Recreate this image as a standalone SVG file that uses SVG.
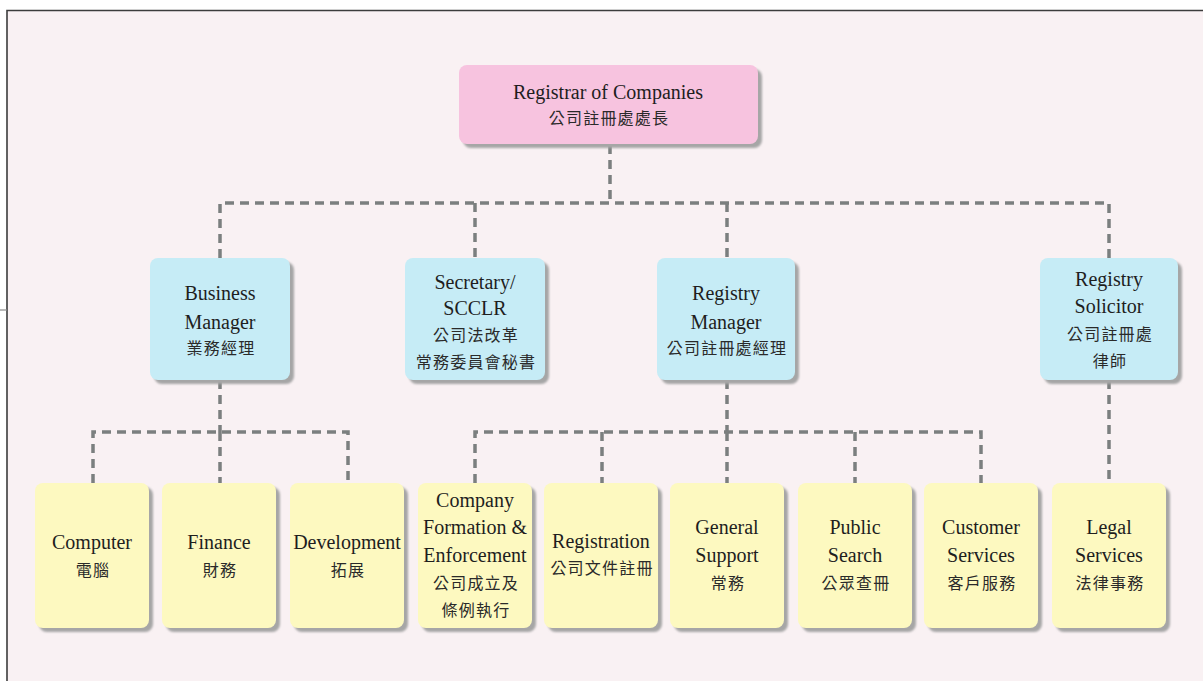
<svg xmlns="http://www.w3.org/2000/svg" width="1203" height="681" viewBox="0 0 1203 681">
<defs>
<filter id="sh" x="-10%" y="-10%" width="130%" height="130%"><feGaussianBlur stdDeviation="1.2"/></filter>
<style>
.bg{fill:#f9f1f3}
.frame{stroke:#3c3c3c;stroke-width:1.6;fill:none}
.shadow{fill:#a6a6a6;filter:url(#sh)}
.pink{fill:#f7c3df}
.blue{fill:#c6ecf6}
.yellow{fill:#fdf9c0}
.conn{stroke:#7b7f7f;stroke-width:3.5;stroke-dasharray:9 6;fill:none}
.en{font-family:'Liberation Serif','Times New Roman',Times,serif;font-size:20px;fill:#1e1e1e;text-anchor:middle}
.zh{font-family:'Noto Sans CJK TC','Noto Sans CJK SC',sans-serif;font-size:16px;fill:#2a2a2a;text-anchor:middle;letter-spacing:1.2px}
</style>
</defs>
<rect x="0" y="0" width="1203" height="681" fill="#ffffff"/>
<rect class="bg" x="7" y="10" width="1196" height="671"/>
<path class="frame" d="M7 681 V10.5 H1203"/>
<line x1="0" y1="310" x2="7" y2="310" stroke="#8a8a8a" stroke-width="1.2"/>

<g id="connectors">
<path class="conn" d="M610 145 V203"/>
<path class="conn" d="M220 258 V203 H1109 V258"/>
<path class="conn" d="M475 203 V258"/>
<path class="conn" d="M727 203 V258"/>
<path class="conn" d="M220 380 V432"/>
<path class="conn" d="M93 483 V432 H348 V483"/>
<path class="conn" d="M220 432 V483"/>
<path class="conn" d="M727 380 V432"/>
<path class="conn" d="M475 483 V432 H981 V483"/>
<path class="conn" d="M602 432 V483"/>
<path class="conn" d="M727 432 V483"/>
<path class="conn" d="M855 432 V483"/>
<path class="conn" d="M1109 380 V483"/>
</g>

<g id="registrar">
<rect class="shadow" x="463" y="69" width="299" height="79" rx="8"/>
<rect class="pink" x="459" y="65" width="299" height="79" rx="8"/>
<text class="en" x="608" y="99" font-family="Liberation Serif, serif">Registrar of Companies</text>
<text class="zh" x="609" y="124">公司註冊處處長</text>
</g>

<g id="business-manager">
<rect class="shadow" x="154" y="262" width="140" height="122" rx="8"/>
<rect class="blue" x="150" y="258" width="140" height="122" rx="8"/>
<text class="en" x="220" y="300">Business</text>
<text class="en" x="220" y="329">Manager</text>
<text class="zh" x="221" y="354">業務經理</text>
</g>

<g id="secretary">
<rect class="shadow" x="409" y="262" width="140" height="122" rx="8"/>
<rect class="blue" x="405" y="258" width="140" height="122" rx="8"/>
<text class="en" x="475" y="289">Secretary/</text>
<text class="en" x="475" y="315">SCCLR</text>
<text class="zh" x="476" y="341">公司法改革</text>
<text class="zh" x="476" y="368">常務委員會秘書</text>
</g>

<g id="registry-manager">
<rect class="shadow" x="661" y="262" width="138" height="122" rx="8"/>
<rect class="blue" x="657" y="258" width="138" height="122" rx="8"/>
<text class="en" x="726" y="300">Registry</text>
<text class="en" x="726" y="329">Manager</text>
<text class="zh" x="727" y="354">公司註冊處經理</text>
</g>

<g id="registry-solicitor">
<rect class="shadow" x="1044" y="262" width="138" height="122" rx="8"/>
<rect class="blue" x="1040" y="258" width="138" height="122" rx="8"/>
<text class="en" x="1109" y="286">Registry</text>
<text class="en" x="1109" y="313">Solicitor</text>
<text class="zh" x="1110" y="340">公司註冊處</text>
<text class="zh" x="1110" y="367">律師</text>
</g>

<g id="computer">
<rect class="shadow" x="39" y="487" width="114" height="145" rx="8"/>
<rect class="yellow" x="35" y="483" width="114" height="145" rx="8"/>
<text class="en" x="92" y="549">Computer</text>
<text class="zh" x="93" y="576">電腦</text>
</g>

<g id="finance">
<rect class="shadow" x="166" y="487" width="114" height="145" rx="8"/>
<rect class="yellow" x="162" y="483" width="114" height="145" rx="8"/>
<text class="en" x="219" y="549">Finance</text>
<text class="zh" x="220" y="576">財務</text>
</g>

<g id="development">
<rect class="shadow" x="294" y="487" width="114" height="145" rx="8"/>
<rect class="yellow" x="290" y="483" width="114" height="145" rx="8"/>
<text class="en" x="347" y="549">Development</text>
<text class="zh" x="348" y="576">拓展</text>
</g>

<g id="company-formation">
<rect class="shadow" x="422" y="487" width="114" height="145" rx="8"/>
<rect class="yellow" x="418" y="483" width="114" height="145" rx="8"/>
<text class="en" x="475" y="507">Company</text>
<text class="en" x="475" y="534">Formation &amp;</text>
<text class="en" x="475" y="562">Enforcement</text>
<text class="zh" x="476" y="589">公司成立及</text>
<text class="zh" x="476" y="616">條例執行</text>
</g>

<g id="registration">
<rect class="shadow" x="548" y="487" width="114" height="145" rx="8"/>
<rect class="yellow" x="544" y="483" width="114" height="145" rx="8"/>
<text class="en" x="601" y="548">Registration</text>
<text class="zh" x="602" y="574">公司文件註冊</text>
</g>

<g id="general-support">
<rect class="shadow" x="674" y="487" width="114" height="145" rx="8"/>
<rect class="yellow" x="670" y="483" width="114" height="145" rx="8"/>
<text class="en" x="727" y="534">General</text>
<text class="en" x="727" y="562">Support</text>
<text class="zh" x="728" y="589">常務</text>
</g>

<g id="public-search">
<rect class="shadow" x="802" y="487" width="114" height="145" rx="8"/>
<rect class="yellow" x="798" y="483" width="114" height="145" rx="8"/>
<text class="en" x="855" y="534">Public</text>
<text class="en" x="855" y="562">Search</text>
<text class="zh" x="856" y="589">公眾查冊</text>
</g>

<g id="customer-services">
<rect class="shadow" x="928" y="487" width="114" height="145" rx="8"/>
<rect class="yellow" x="924" y="483" width="114" height="145" rx="8"/>
<text class="en" x="981" y="534">Customer</text>
<text class="en" x="981" y="562">Services</text>
<text class="zh" x="982" y="589">客戶服務</text>
</g>

<g id="legal-services">
<rect class="shadow" x="1056" y="487" width="114" height="145" rx="8"/>
<rect class="yellow" x="1052" y="483" width="114" height="145" rx="8"/>
<text class="en" x="1109" y="534">Legal</text>
<text class="en" x="1109" y="562">Services</text>
<text class="zh" x="1110" y="589">法律事務</text>
</g>
</svg>
